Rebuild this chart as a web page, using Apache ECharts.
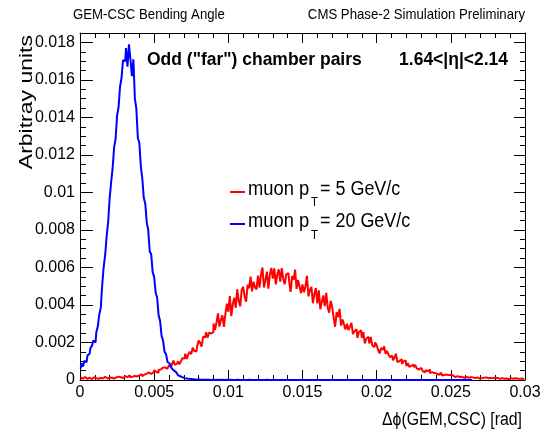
<!DOCTYPE html>
<html>
<head>
<meta charset="utf-8">
<script src="https://cdn.jsdelivr.net/npm/echarts@6/dist/echarts.min.js"></script>
<style>
  html, body { margin: 0; padding: 0; background: #fff; }
  #chart { width: 545px; height: 432px; }
</style>
</head>
<body>
<div id="chart"></div>
<script>
// histogram bins: width 0.0001 rad, starting at 0
const BIN_WIDTH = 0.0001;
// bin contents in units of 1e-3 (arbitrary units)
const red5GeV = [
  0.12,0.07,0.11,0.16,0.06,0.09,0.12,0.05,0.11,0.14,
  0.09,0.16,0.07,0.11,0.14,0.09,0.17,0.10,0.08,0.13,
  0.17,0.12,0.07,0.16,0.14,0.18,0.10,0.15,0.11,0.09,
  0.20,0.15,0.19,0.25,0.14,0.18,0.21,0.13,0.19,0.24,
  0.22,0.31,0.20,0.29,0.34,0.27,0.40,0.33,0.30,0.40,
  0.52,0.44,0.38,0.55,0.56,0.66,0.56,0.66,0.60,0.60,
  0.80,0.70,0.84,1.03,0.80,0.88,1.00,0.84,0.99,1.16,
  1.14,1.40,1.12,1.36,1.50,1.38,1.72,1.55,1.52,1.82,
  2.11,1.98,1.78,2.30,2.28,2.55,2.26,2.52,2.49,2.55,
  3.01,2.67,3.05,3.55,2.85,3.20,3.45,2.83,3.51,4.07,
  3.64,4.47,3.40,4.04,4.38,3.85,4.84,4.22,3.93,4.80,
  4.97,4.45,4.17,5.08,4.88,5.51,4.72,5.24,4.95,4.83,
  5.57,4.93,5.62,6.00,4.93,5.32,5.78,4.87,5.61,5.98,
  5.40,5.95,5.10,5.62,5.90,5.25,5.97,5.40,5.10,5.62,
  5.70,5.27,4.70,5.54,5.34,5.89,4.86,5.33,4.98,4.63,
  5.10,4.68,5.00,5.55,4.46,4.79,4.97,4.09,4.57,4.90,
  4.08,4.78,3.77,4.17,4.51,3.94,4.65,3.85,3.59,4.22,
  3.90,3.33,2.84,3.62,3.36,3.79,2.90,3.23,2.96,2.69,
  3.00,2.66,2.85,3.05,2.45,2.60,2.70,2.25,2.55,2.65,
  2.25,2.55,1.95,2.20,2.30,1.95,2.30,1.85,1.75,2.00,
  1.85,1.60,1.42,1.70,1.62,1.80,1.40,1.55,1.35,1.22,
  1.30,1.05,1.18,1.40,0.95,1.02,1.10,0.85,0.98,1.05,
  0.75,0.90,0.70,0.77,0.82,0.68,0.80,0.62,0.56,0.65,
  0.56,0.48,0.40,0.52,0.47,0.55,0.37,0.42,0.37,0.32,
  0.34,0.28,0.31,0.38,0.24,0.27,0.29,0.20,0.26,0.28,
  0.18,0.24,0.15,0.19,0.21,0.16,0.22,0.17,0.12,0.16,
  0.17,0.12,0.09,0.15,0.14,0.17,0.10,0.13,0.11,0.08,
  0.10,0.08,0.12,0.14,0.07,0.09,0.11,0.06,0.10,0.12,
  0.07,0.11,0.06,0.09,0.10,0.07,0.11,0.08,0.05,0.09,
  0.10,0.07,0.05,0.09,0.08,0.10,0.06,0.08,0.07,0.04
];
const blue20GeV = [
  0.62,0.90,0.72,1.02,0.95,1.30,1.40,1.70,1.82,2.10,
  2.00,2.55,2.85,3.50,3.85,5.10,6.05,6.70,7.70,8.45,
  9.70,10.55,11.30,12.40,12.85,14.10,14.55,15.65,16.10,17.05,
  17.00,17.70,16.70,17.90,17.10,16.20,17.10,15.00,14.45,12.90,
  12.65,11.40,10.75,9.70,9.40,8.40,8.00,6.85,6.70,5.75,
  5.50,4.65,4.40,3.45,3.15,2.35,2.10,1.50,1.38,0.95,
  0.88,0.74,0.60,0.50,0.40,0.34,0.26,0.20,0.15,0.12,
  0.10,0.08,0.07,0.06,0.05,0.04,0.04,0.03,0.03,0.02,
  0.02,0.02,0.01,0.02,0.01,0.01,0.02,0.01,0,0.01,
  0.01,0,0.01,0,0,0.01,0,0,0.01,0,
  0,0.01,0,0,0,0,0.01,0,0,0,
  0,0,0,0.01,0,0,0,0,0,0,
  0,0,0,0,0,0.01,0,0,0,0,
  0,0,0,0,0,0,0,0,0,0,
  0,0,0,0,0.01,0,0,0,0,0,
  0,0,0,0,0,0,0,0,0,0,
  0,0,0,0,0,0,0,0,0,0,
  0,0,0,0,0,0,0,0,0,0,
  0,0,0,0,0,0,0,0,0,0,
  0,0,0,0,0,0,0,0,0,0,
  0,0,0,0,0,0,0,0,0,0,
  0,0,0,0,0,0,0,0,0,0,
  0,0,0,0,0,0,0,0,0,0,
  0,0,0,0,0,0,0,0,0,0,
  0,0,0,0,0,0,0,0,0,0,
  0,0,0,0,0,0,0,0,0,0,
  0,0,0,0,0
];
const UNIT = 0.001;
const xTickLabels = ['0', '0.005', '0.01', '0.015', '0.02', '0.025', '0.03'];
const yTickLabels = ['0', '0.002', '0.004', '0.006', '0.008', '0.01', '0.012', '0.014', '0.016', '0.018'];

function toXY(arr) {
  // bin centres, step drawn at the bin edges
  return arr.map((v, i) => [(i + 0.5) * BIN_WIDTH, v * UNIT]);
}

const FONT = '"Liberation Sans", Arial, Helvetica, sans-serif';

const chart = echarts.init(document.getElementById('chart'), null, { renderer: 'canvas' });

const xCommon = {
  type: 'value', min: 0, max: 0.03, interval: 0.005,
  axisLine: { show: true, onZero: false, lineStyle: { color: '#000', width: 1 } },
  splitLine: { show: false },
  minorSplitLine: { show: false }
};
const yCommon = {
  type: 'value', min: 0, max: 0.0185, interval: 0.002,
  axisLine: { show: true, onZero: false, lineStyle: { color: '#000', width: 1 } },
  splitLine: { show: false },
  minorSplitLine: { show: false }
};

// ROOT-like text: slightly narrow glyphs
function txt(x, y, text, size, opts) {
  opts = opts || {};
  return {
    type: 'text', x: x, y: y,
    rotation: opts.rotation || 0,
    scaleX: opts.scaleX || 1, scaleY: opts.scaleY || 1,
    style: {
      text: text, fontFamily: FONT, fontSize: size,
      fontWeight: opts.bold ? 'bold' : 'normal', fill: '#000',
      align: opts.align || 'left', verticalAlign: 'middle'
    }
  };
}

const option = {
  animation: false,
  backgroundColor: '#fff',
  grid: { left: 80, right: 20, top: 33, bottom: 52, containLabel: false },
  xAxis: [
    Object.assign({}, xCommon, {
      position: 'bottom',
      axisTick: { show: true, inside: true, length: 10, lineStyle: { color: '#000' } },
      minorTick: { show: true, splitNumber: 5, length: 5, lineStyle: { color: '#000' } },
      axisLabel: {
        color: '#000', fontFamily: FONT, fontSize: 16, margin: 5,
        formatter: v => {
          const k = Math.round(v / 0.005);
          return Math.abs(v - k * 0.005) < 1e-9 ? xTickLabels[k] : '';
        }
      }
    }),
    Object.assign({}, xCommon, {
      position: 'top',
      axisTick: { show: true, inside: true, length: 10, lineStyle: { color: '#000' } },
      minorTick: { show: true, splitNumber: 5, length: 5, lineStyle: { color: '#000' } },
      axisLabel: { show: false }
    })
  ],
  yAxis: [
    Object.assign({}, yCommon, {
      position: 'left',
      axisTick: { show: true, inside: true, length: 13, lineStyle: { color: '#000' } },
      minorTick: { show: true, splitNumber: 4, length: 6, lineStyle: { color: '#000' } },
      axisLabel: {
        color: '#000', fontFamily: FONT, fontSize: 16, margin: 5,
        showMaxLabel: false,
        formatter: v => {
          const k = Math.round(v / 0.002);
          return Math.abs(v - k * 0.002) < 1e-9 ? yTickLabels[k] : '';
        }
      }
    }),
    Object.assign({}, yCommon, {
      position: 'right',
      axisTick: { show: true, inside: true, length: 11, lineStyle: { color: '#000' } },
      minorTick: { show: true, splitNumber: 4, length: 5, lineStyle: { color: '#000' } },
      axisLabel: { show: false }
    })
  ],
  series: [
    {
      name: 'muon pT = 5 GeV/c', type: 'line', step: 'middle',
      xAxisIndex: 0, yAxisIndex: 0,
      showSymbol: false, silent: true,
      data: toXY(red5GeV),
      lineStyle: { color: '#ff0000', width: 2 }
    },
    {
      name: 'muon pT = 20 GeV/c', type: 'line', step: 'middle',
      xAxisIndex: 0, yAxisIndex: 0,
      showSymbol: false, silent: true,
      data: toXY(blue20GeV),
      lineStyle: { color: '#0000ff', width: 2 }
    }
  ],
  graphic: [
    txt(73, 15, 'GEM-CSC Bending Angle', 15, { scaleX: 0.88 }),
    txt(525, 15, 'CMS Phase-2 Simulation Preliminary', 15, { scaleX: 0.88, align: 'right' }),
    txt(147, 60, 'Odd ("far") chamber pairs', 19, { scaleX: 0.92, bold: true }),
    txt(508, 60, '1.64<|η|<2.14', 19, { scaleX: 0.92, bold: true, align: 'right' }),
    // legend
    { type: 'line', shape: { x1: 230, y1: 192, x2: 245, y2: 192 }, style: { stroke: '#ff0000', lineWidth: 2 } },
    txt(248, 190, 'muon p', 19.5, { scaleX: 0.94 }),
    txt(311, 203, 'T', 12, { scaleX: 0.94 }),
    txt(320, 190, '= 5 GeV/c', 19.5, { scaleX: 0.92 }),
    { type: 'line', shape: { x1: 230, y1: 224, x2: 245, y2: 224 }, style: { stroke: '#0000ff', lineWidth: 2 } },
    txt(248, 222, 'muon p', 19.5, { scaleX: 0.94 }),
    txt(311, 236, 'T', 12, { scaleX: 0.94 }),
    txt(320, 222, '= 20 GeV/c', 19.5, { scaleX: 0.92 }),
    // axis titles
    txt(522, 420, 'Δϕ(GEM,CSC) [rad]', 18, { scaleX: 0.88, align: 'right' }),
    txt(27, 35, 'Arbitray units', 23, { rotation: Math.PI / 2, scaleY: 0.8, align: 'right' })
  ]
};
chart.setOption(option);
window.addEventListener('resize', function () { chart.resize(); });
</script>
</body>
</html>
